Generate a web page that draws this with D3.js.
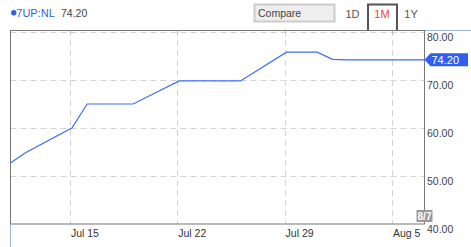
<!DOCTYPE html>
<html>
<head>
<meta charset="utf-8">
<script src="https://cdn.jsdelivr.net/npm/d3@7"></script>
<style>
  body { margin: 0; background: #fff; }
  svg { display: block; font-family: "Liberation Sans", Arial, sans-serif; }
</style>
</head>
<body>
<div id="chart"></div>
<script>
// data
var symbol = "7UP:NL";
var lastPrice = "74.20";
var lastDateLabel = "8/7";
var dates = ["2019-07-11","2019-07-12","2019-07-15","2019-07-16","2019-07-17","2019-07-18","2019-07-19",
             "2019-07-22","2019-07-23","2019-07-24","2019-07-25","2019-07-26",
             "2019-07-29","2019-07-30","2019-07-31","2019-08-01","2019-08-02",
             "2019-08-05","2019-08-06","2019-08-07"];
var closes = [52.7, 54.9, 60.0, 65.0, 65.0, 65.0, 65.0,
              69.8, 69.8, 69.8, 69.8, 69.8,
              75.8, 75.8, 75.8, 74.3, 74.2,
              74.2, 74.2, 74.2];
var xTicks = ["2019-07-15","2019-07-22","2019-07-29","2019-08-05"];
var yTicks = [40, 50, 60, 70, 80];
var ranges = ["1D", "1M", "1Y"];

var width = 471, height = 247;
var margin = {top: 30, right: 46.5, bottom: 23, left: 10.5};
var innerW = width - margin.left - margin.right;
var innerH = height - margin.top - margin.bottom;

var parseDay = d3.timeParse("%Y-%m-%d");
var parsePoint = function(s) { return d3.timeHour.offset(parseDay(s), 3); };

var data = dates.map(function(d, i) { return {date: parsePoint(d), close: closes[i]}; });

var svg = d3.select("#chart").append("svg")
    .attr("width", width)
    .attr("height", height);

// set the ranges
var x = d3.scaleTime()
    .domain([d3.timeDay.offset(data[data.length - 1].date, -27), data[data.length - 1].date])
    .range([margin.left, margin.left + innerW]);
var y = d3.scaleLinear()
    .domain([40, 80])
    .range([margin.top + innerH, margin.top + 2]);

var plotLeft = margin.left, plotRight = margin.left + innerW;
var plotTop = margin.top, plotBottom = margin.top + innerH;

// grid lines
svg.append("g").selectAll("line")
    .data(yTicks.filter(function(v) { return v > 40; }))
    .enter().append("line")
    .attr("x1", plotLeft).attr("x2", plotRight)
    .attr("y1", function(d) { return Math.round(y(d)) + 0.5; })
    .attr("y2", function(d) { return Math.round(y(d)) + 0.5; })
    .attr("stroke", "#d4d4d4")
    .attr("stroke-dasharray", "6,4");

svg.append("g").selectAll("line")
    .data(xTicks)
    .enter().append("line")
    .attr("x1", function(d) { return Math.round(x(parseDay(d))) + 0.5; })
    .attr("x2", function(d) { return Math.round(x(parseDay(d))) + 0.5; })
    .attr("y1", plotTop).attr("y2", plotBottom)
    .attr("stroke", "#d4d4d4")
    .attr("stroke-dasharray", "6,4");

// small ticks on the top edge
svg.append("g").selectAll("line")
    .data(xTicks)
    .enter().append("line")
    .attr("x1", function(d) { return Math.round(x(parseDay(d))) + 0.5; })
    .attr("x2", function(d) { return Math.round(x(parseDay(d))) + 0.5; })
    .attr("y1", plotTop).attr("y2", plotTop + 4)
    .attr("stroke", "#bbb");

// outer light blue strokes
svg.append("line")
    .attr("x1", plotRight).attr("x2", width)
    .attr("y1", plotTop + 0.5).attr("y2", plotTop + 0.5)
    .attr("stroke", "#9bb8d8");
svg.append("line")
    .attr("x1", plotLeft).attr("x2", plotLeft)
    .attr("y1", plotBottom).attr("y2", height)
    .attr("stroke", "#9bb8d8");

// plot frame
svg.append("rect")
    .attr("x", plotLeft).attr("y", plotTop + 0.5)
    .attr("width", innerW).attr("height", innerH - 0.5)
    .attr("fill", "none")
    .attr("stroke", "#777");

// price line
svg.append("clipPath").attr("id", "clip")
  .append("rect")
    .attr("x", plotLeft).attr("y", plotTop)
    .attr("width", innerW).attr("height", innerH);

var line = d3.line()
    .x(function(d) { return x(d.date); })
    .y(function(d) { return y(d.close); });

svg.append("path")
    .datum(data)
    .attr("clip-path", "url(#clip)")
    .attr("fill", "none")
    .attr("stroke", "#3d6ef5")
    .attr("stroke-width", 1.2)
    .attr("d", line);

// y axis labels (hang below the grid line)
svg.append("g").selectAll("text")
    .data(yTicks)
    .enter().append("text")
    .attr("x", plotRight + 2.5)
    .attr("y", function(d) { return y(d) + 8.5; })
    .attr("font-size", "10.5px")
    .attr("fill", "#444")
    .text(function(d) { return d3.format(".2f")(d); });

// x axis labels, left aligned at the tick
svg.append("g").selectAll("text")
    .data(xTicks)
    .enter().append("text")
    .attr("x", function(d) { return x(parseDay(d)) + 1; })
    .attr("y", plotBottom + 13)
    .attr("font-size", "10.5px")
    .attr("fill", "#333")
    .text(function(d) { return d3.timeFormat("%b %-d")(parseDay(d)); });

// last price flag
var lastY = y(closes[closes.length - 1]);
svg.append("path")
    .attr("d", "M" + plotRight + "," + lastY +
               "L" + (plotRight + 6) + "," + (lastY - 6.5) +
               "L" + (width - 3) + "," + (lastY - 6.5) +
               "L" + (width - 3) + "," + (lastY + 6.5) +
               "L" + (plotRight + 6) + "," + (lastY + 6.5) + "Z")
    .attr("fill", "#2f5ff2");
svg.append("text")
    .attr("x", plotRight + 7)
    .attr("y", lastY + 4)
    .attr("font-size", "11px")
    .attr("fill", "#fff")
    .text(lastPrice);

// last date tag, straddling the right frame edge
svg.append("rect")
    .attr("x", plotRight - 8).attr("y", plotBottom - 14)
    .attr("width", 16).attr("height", 12)
    .attr("fill", "#9a9a9a");
svg.append("text")
    .attr("x", plotRight)
    .attr("y", plotBottom - 4.2)
    .attr("text-anchor", "middle")
    .attr("font-size", "10px")
    .attr("font-weight", "bold")
    .attr("fill", "#fff")
    .text(lastDateLabel);

// header: symbol + price
svg.append("circle")
    .attr("cx", 13.8).attr("cy", 12.8).attr("r", 2.7)
    .attr("fill", "#2f5ff2");
svg.append("text")
    .attr("x", 16.3).attr("y", 17.2)
    .attr("font-size", "11px")
    .attr("fill", "#2f5ff2")
    .text(symbol);
svg.append("text")
    .attr("x", 61).attr("y", 17.2)
    .attr("font-size", "10.5px")
    .attr("fill", "#444")
    .text(lastPrice);

// compare box
svg.append("rect")
    .attr("x", 254.5).attr("y", 4.5)
    .attr("width", 80).attr("height", 17)
    .attr("fill", "#eee")
    .attr("stroke", "#ccc")
    .attr("stroke-width", 2);
svg.append("text")
    .attr("x", 258).attr("y", 17)
    .attr("font-size", "10.5px")
    .attr("fill", "#444")
    .text("Compare");

// range tabs
svg.append("path")
    .attr("d", "M368,30V4.5H397V30")
    .attr("fill", "#fff")
    .attr("stroke", "#555")
    .attr("stroke-width", 2);
var tabX = [352.5, 382, 411];
svg.append("g").selectAll("text")
    .data(ranges)
    .enter().append("text")
    .attr("x", function(d, i) { return tabX[i]; })
    .attr("y", 18)
    .attr("text-anchor", "middle")
    .attr("font-size", "11px")
    .attr("fill", function(d) { return d == "1M" ? "#f2442b" : "#555"; })
    .text(function(d) { return d; });
</script>
</body>
</html>
